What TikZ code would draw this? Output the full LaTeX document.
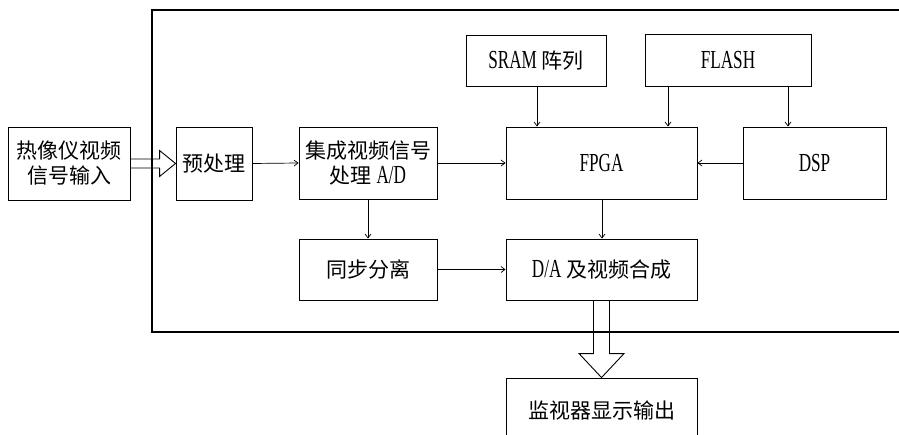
\documentclass[tikz,border=0pt]{standalone}
\usepackage{fontspec}
\setmainfont{Noto Sans CJK SC}
\newfontfamily\lat{Liberation Serif}[FakeStretch=0.66]
\newcommand\latf{\lat\fontsize{26}{26}\selectfont}
\usetikzlibrary{arrows.meta,calc}
\begin{document}
\begin{tikzpicture}[x=1pt,y=-1pt,
  box/.style={draw,line width=0.9pt,inner sep=0pt,align=center,
    font=\fontsize{21}{25}\selectfont},
  arr/.style={line width=0.7pt,-{Straight Barb[length=4pt,width=6pt]}},
  hollow/.style={line width=0.9pt,line join=miter}]
\clip (0,0) rectangle (899,435);
\fill[white] (0,0) rectangle (899,435);
% frame
\draw[line width=1.2pt] (905,10) -- (152,10) -- (152,332) -- (905,332);
% nodes
\node[box,minimum width=122pt,minimum height=73pt] (in) at (69,163.5) {热像仪视频\\信号输入};
\node[box,minimum width=76pt,minimum height=73pt] (pre) at (214,163.5) {预处理};
\node[box,minimum width=138pt,minimum height=72pt] (ad) at (368,163) {集成视频信号\\处理 {\latf A/D}};
\node[box,minimum width=140pt,minimum height=51pt] (sram) at (536,60.5) {{\latf SRAM} 阵列};
\node[box,minimum width=166pt,minimum height=52pt] (flash) at (728,60) {\latf FLASH};
\node[box,minimum width=191pt,minimum height=72pt] (fpga) at (601.5,163) {\latf FPGA};
\node[box,minimum width=143pt,minimum height=72pt] (dsp) at (814.5,163) {\latf DSP};
\node[box,minimum width=138pt,minimum height=61pt] (sync) at (368,269.5) {同步分离};
\node[box,minimum width=191pt,minimum height=61pt] (da) at (601.5,269.5) {{\latf D/A} 及视频合成};
\node[box,minimum width=191pt,minimum height=64pt] (out) at (601.5,410) {监视器显示输出};
% connector x positions
\coordinate (xs) at (537,0);
\coordinate (xf1) at (668,0);
\coordinate (xf2) at (788,0);
\coordinate (xd) at (602,0);
% arrows
\draw[arr] (sram.south -| xs) -- (fpga.north -| xs);
\draw[arr] (flash.south -| xf1) -- (fpga.north -| xf1);
\draw[arr] (flash.south -| xf2) -- (dsp.north -| xf2);
\draw[arr] (pre.east) -- (ad.west);
\draw[arr] (ad.east) -- (fpga.west);
\draw[arr] (dsp.west) -- (fpga.east);
\draw[arr] (ad.south) -- (sync.north);
\draw[arr] (fpga.south -| xd) -- (da.north -| xd);
\draw[arr] (sync.east) -- (da.west);
% hollow arrows
\draw[hollow] ($(in.east)+(0,-4.5)$) -- ($(pre.west)+(-16,-4.5)$) -- ($(pre.west)+(-16,-13)$) -- (pre.west) -- ($(pre.west)+(-16,13)$) -- ($(pre.west)+(-16,4.5)$) -- ($(in.east)+(0,4.5)$);
\draw[hollow] ($(da.south)+(-8,0)$) -- ($(out.north)+(-8,-24)$) -- ($(out.north)+(-22.5,-24)$) -- (out.north) -- ($(out.north)+(22.5,-24)$) -- ($(out.north)+(8,-24)$) -- ($(da.south)+(8,0)$);
\end{tikzpicture}
\end{document}
